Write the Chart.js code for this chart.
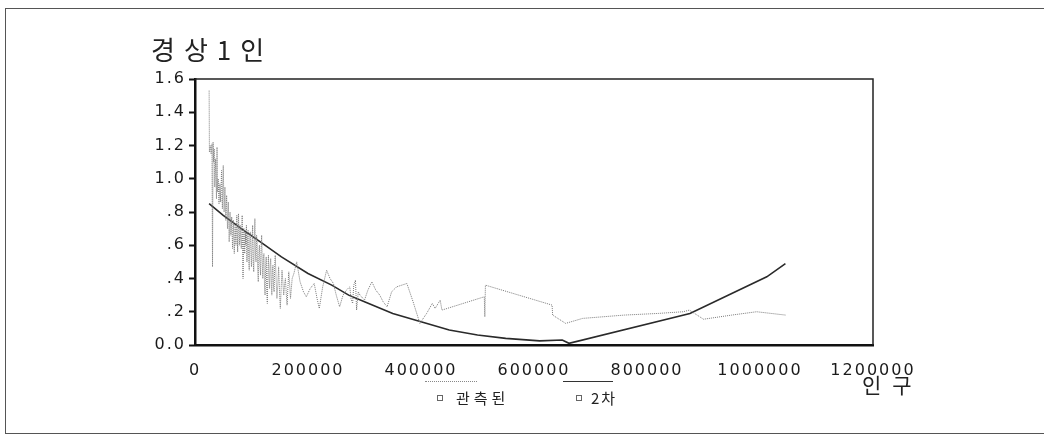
<!DOCTYPE html>
<html lang="ko">
<head>
<meta charset="utf-8">
<title>경상1인</title>
<script src="https://cdn.jsdelivr.net/npm/chart.js@4.4.1/dist/chart.umd.min.js"></script>
<style>
  html, body { margin:0; padding:0; background:#fff; }
  #wrap { position:relative; width:1044px; height:438px; overflow:hidden; }
  #frame { position:absolute; left:5px; top:8px; width:1060px; height:424px; border:1.5px solid #555; border-right:none; }
  canvas { position:absolute; left:0; top:0; }
  .txt { position:absolute; font-family:'Noto Sans CJK KR', sans-serif; color:#222; white-space:nowrap; line-height:1; }
  #title { left:151px; top:36px; font-size:26px; letter-spacing:9px; }
  #xname { left:862px; top:374px; font-size:21px; letter-spacing:11px; }
  .lgline { position:absolute; top:381px; height:0; }
  #lg1 { left:425px; width:52px; border-top:1px dotted #888; }
  #lg2 { left:563px; width:50px; border-top:1.5px solid #333; }
  .sq { position:absolute; top:395px; width:4px; height:4px; border:1px solid #666; }
  .lgtxt { position:absolute; top:390px; font-family:'Noto Sans CJK KR', sans-serif; font-size:15px; color:#222; line-height:1; }
  #t1 { left:456px; letter-spacing:4px; }
  #t2 { left:591px; letter-spacing:2px; }
</style>
</head>
<body>
<div id="wrap">
  <div id="frame"></div>
  <canvas id="chart" width="1044" height="438"></canvas>
  <div id="title" class="txt">경상1인</div>
  <div id="xname" class="txt">인구</div>
  <div id="lg1" class="lgline"></div>
  <div id="lg2" class="lgline"></div>
  <div class="sq" style="left:437px"></div>
  <div class="sq" style="left:576px"></div>
  <div id="t1" class="lgtxt">관측된</div>
  <div id="t2" class="lgtxt">2차</div>
</div>
<script>
// Data
const xTickLabels = ['0', '200000', '400000', '600000', '800000', '1000000', '1200000']
const yTickLabels = ['0.0', '.2', '.4', '.6', '.8', '1.0', '1.2', '1.4', '1.6']
const seriesNames = ['관측된', '2차']

// observed (인구, 경상1인)
const popX = [
  25000, 25500, 27000, 28500, 30000, 31000, 32000, 33000, 34000, 35000,
  36500, 38000, 39000, 40000, 41000, 42500, 44000, 45500, 47000, 48500,
  50000, 51500, 53000, 54500, 56000, 57500, 59000, 60500, 62000, 63500,
  65000, 66500, 68000, 69500, 71000, 72500, 74000, 75500, 77000, 78500,
  80000, 81000, 82000, 83500, 85000, 86500, 88000, 89000, 90000, 91000,
  92000, 93000, 94000, 95000, 96000, 97000, 98000, 99000, 100000, 101000,
  102000, 103000, 104000, 105000, 106000, 107000, 108000, 109000, 110000, 111000,
  112000, 113000, 114000, 115000, 116000, 117000, 118000, 119000, 120000, 121000,
  122000, 123000, 124000, 125000, 126000, 127000, 128000, 129000, 130000, 131000,
  132000, 133000, 134000, 135000, 136000, 137000, 138000, 139000, 140000, 141000,
  142000, 143500, 145000, 146500, 148000, 149500, 151000, 152500, 154000, 155500,
  157000, 158500, 160000, 161500, 163000, 164500, 166000, 167500, 169000, 170500,
  172000, 175000, 180000, 183000, 186000, 189000, 192000, 197000, 204000, 211000,
  216000, 220000, 226000, 233000, 239000, 245000, 250000, 256000, 262000, 268000,
  274000, 276000, 279000, 281000, 284000, 286000, 289000, 292000, 300000, 306000,
  313000, 320000, 327000, 333000, 340000, 348000, 357000, 366000, 375000, 386000,
  398000, 410000, 420000, 425000, 434000, 437000, 512000, 513000, 514000, 632000,
  633000, 656000, 686000, 760000, 820000, 864000, 875000, 900000, 950000, 994000,
  1045000
]
const obsY = [
  1.53, 1.16, 1.20, 1.15, 1.21, 0.47, 1.22, 1.10, 1.18, 0.95,
  1.12, 0.88, 1.19, 0.92, 1.00, 0.85, 0.97, 0.86, 1.05, 0.82,
  1.08, 0.80, 0.95, 0.75, 0.90, 0.70, 0.86, 0.62, 0.80, 0.66,
  0.77, 0.58, 0.75, 0.55, 0.72, 0.60, 0.78, 0.56, 0.79, 0.60,
  0.72, 0.62, 0.58, 0.78, 0.40, 0.70, 0.55, 0.68, 0.60, 0.72,
  0.50, 0.64, 0.69, 0.52, 0.45, 0.66, 0.68, 0.55, 0.47, 0.62,
  0.72, 0.50, 0.44, 0.64, 0.76, 0.55, 0.50, 0.66, 0.62, 0.45,
  0.38, 0.55, 0.60, 0.48, 0.42, 0.58, 0.66, 0.50, 0.40, 0.52,
  0.55, 0.36, 0.30, 0.46, 0.53, 0.33, 0.25, 0.44, 0.54, 0.40,
  0.34, 0.48, 0.52, 0.38, 0.30, 0.45, 0.48, 0.35, 0.32, 0.47,
  0.54, 0.40, 0.28, 0.36, 0.47, 0.33, 0.22, 0.34, 0.45, 0.38,
  0.30, 0.36, 0.40, 0.31, 0.24, 0.35, 0.44, 0.37, 0.28, 0.34,
  0.40, 0.43, 0.50, 0.44, 0.38, 0.35, 0.32, 0.29, 0.34, 0.37,
  0.28, 0.22, 0.35, 0.45, 0.40, 0.37, 0.30, 0.23, 0.30, 0.33,
  0.35, 0.28, 0.25, 0.36, 0.39, 0.21, 0.32, 0.30, 0.27, 0.33,
  0.38, 0.33, 0.30, 0.26, 0.23, 0.32, 0.35, 0.36, 0.37, 0.26,
  0.13, 0.19, 0.25, 0.22, 0.27, 0.21, 0.29, 0.17, 0.36, 0.24,
  0.18, 0.13, 0.16, 0.18, 0.19, 0.20, 0.21, 0.155, 0.18, 0.20,
  0.18
]

// quadratic fit (2차)
const fitX = [25000, 50000, 82000, 120000, 153000, 200000, 242000, 272000, 300000, 350000,
  400000, 450000, 500000, 550000, 610000, 650000, 662000, 876000, 950000, 1012000, 1045000]
const fitY = [0.85, 0.78, 0.70, 0.61, 0.53, 0.43, 0.36, 0.30, 0.26, 0.19,
  0.14, 0.09, 0.06, 0.04, 0.025, 0.03, 0.01, 0.19, 0.31, 0.41, 0.49]

const toPoints = (xs, ys) => xs.map((x, i) => ({ x: x, y: ys[i] }))

// wide letter spacing of the scanned tick font
const spacing = {
  id: 'spacing',
  beforeLayout(chart) { chart.ctx.letterSpacing = '2px' },
  beforeDraw(chart) { chart.ctx.letterSpacing = '2px' }
}

// thin frame on top and right of the plot area
const plotFrame = {
  id: 'plotFrame',
  afterDraw(chart) {
    const { ctx, chartArea: a } = chart
    ctx.save()
    ctx.strokeStyle = '#222'
    ctx.lineWidth = 1.5
    ctx.beginPath()
    ctx.moveTo(a.left, a.top)
    ctx.lineTo(a.right, a.top)
    ctx.lineTo(a.right, a.bottom)
    ctx.stroke()
    ctx.restore()
  }
}

Chart.defaults.font.family = "'DejaVu Sans', sans-serif"
Chart.defaults.font.size = 16
Chart.defaults.color = '#1a1a1a'

new Chart(document.getElementById('chart'), {
  type: 'line',
  data: {
    datasets: [
      {
        label: seriesNames[0],
        data: toPoints(popX, obsY),
        borderColor: '#7a7a7a',
        borderWidth: 1,
        borderDash: [1, 1],
        pointRadius: 0,
        tension: 0
      },
      {
        label: seriesNames[1],
        data: toPoints(fitX, fitY),
        borderColor: '#2a2a2a',
        borderWidth: 1.6,
        pointRadius: 0,
        tension: 0
      }
    ]
  },
  options: {
    responsive: false,
    animation: false,
    layout: { padding: { top: 79, right: 171, left: 0, bottom: 0 } },
    plugins: { legend: { display: false }, tooltip: { enabled: false } },
    scales: {
      x: {
        type: 'linear',
        min: 0,
        max: 1200000,
        afterBuildTicks: s => { s.ticks = xTickLabels.map(t => ({ value: Number(t) })) },
        afterFit: s => { s.height = 93 },
        ticks: { autoSkip: false, maxRotation: 0, padding: 8, callback: (v, i) => xTickLabels[i] },
        grid: { display: false },
        border: { display: true, color: '#111', width: 2.5 }
      },
      y: {
        min: 0,
        max: 1.6,
        afterBuildTicks: s => { s.ticks = yTickLabels.map(t => ({ value: Number(t) })) },
        afterFit: s => { s.width = 195 },
        ticks: { autoSkip: false, padding: 3, callback: (v, i) => yTickLabels[i] },
        grid: { drawOnChartArea: false, drawTicks: true, tickLength: 6, tickWidth: 2, color: '#111' },
        border: { display: true, color: '#111', width: 2.5 }
      }
    }
  },
  plugins: [spacing, plotFrame]
})
</script>
</body>
</html>
